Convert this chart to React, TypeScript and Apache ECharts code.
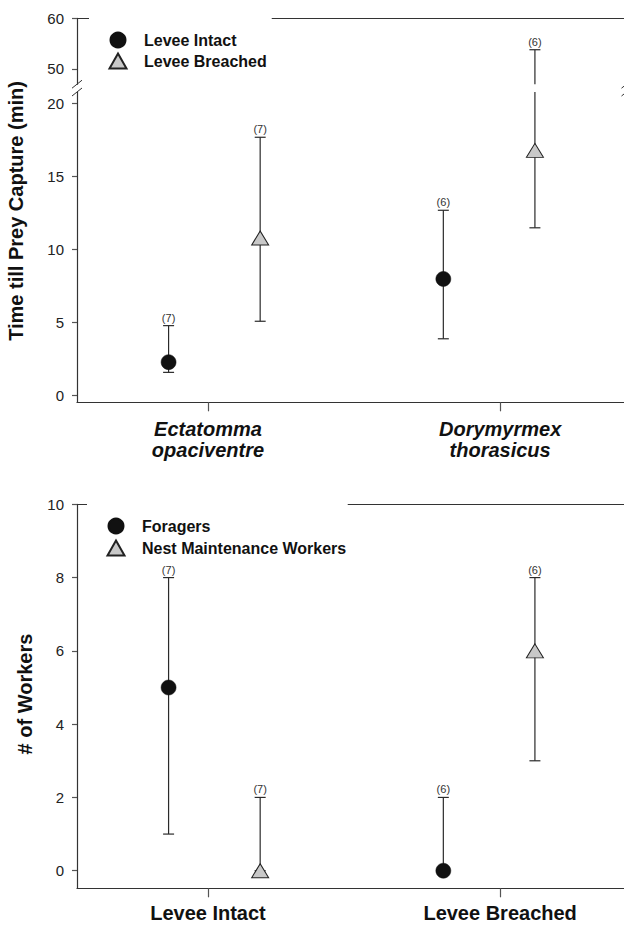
import React, { useEffect, useRef } from "react";
import * as echarts from "echarts";

// ---------- data ----------
const speciesLabels = ["Ectatomma\nopaciventre", "Dorymyrmex\nthorasicus"];
const habitatLabels = ["Levee Intact", "Levee Breached"];
// positions on the numeric x axis (0..6)
const groupTickX = [1.43, 4.62];
const circleX = [1, 4];
const triangleX = [2, 5];

// top panel: time till prey capture (min)
const intactMean = [2.3, 8.0];
const intactLow = [1.6, 3.9];
const intactHigh = [4.8, 12.7];
const intactN = [7, 6];
const breachedMean = [10.8, 16.8];
const breachedLow = [5.1, 11.5];
const breachedHigh = [17.7, 53.8];
const breachedN = [7, 6];

// bottom panel: # of workers
const foragersMean = [5, 0];
const foragersLow = [1, 0];
const foragersHigh = [8, 2];
const foragersN = [7, 6];
const nestMean = [0, 6];
const nestLow = [0, 3];
const nestHigh = [2, 8];
const nestN = [7, 6];

const upperTicks = [50, 60];
const lowerTicks = [0, 5, 10, 15, 20];
const workerTicks = [0, 2, 4, 6, 8, 10];

// ---------- layout / style ----------
const FONT = "'Liberation Sans', Arial, sans-serif";
const AXIS_X = 77;
const GRID_W = 549.5;
const UPPER_TOP = 18.3;
const UPPER_BOTTOM = 84.2;
const LOWER_TOP = 92;
const LOWER_BOTTOM = 402.3;
const WORK_TOP = 504.3;
const WORK_BOTTOM = 888.3;
const UPPER_RANGE: [number, number] = [47, 60];
const LOWER_RANGE: [number, number] = [-0.45, 20.8];
const WORK_RANGE: [number, number] = [-0.48, 10];
const LINE = "#333";
const BAR = "#2a2a2a";
const CIRCLE_FILL = "#111";
const TRI_FILL = "#c8c8c8";

function errorBarRenderer(range: [number, number]) {
  return (_params: any, api: any) => {
    const x = api.value(0);
    const lo = api.value(1);
    const hi = api.value(2);
    const n = api.value(3);
    const a = Math.max(lo, range[0]);
    const b = Math.min(hi, range[1]);
    if (b < a) return null;
    const p1 = api.coord([x, a]);
    const p2 = api.coord([x, b]);
    const children: any[] = [
      {
        type: "line",
        shape: { x1: p1[0], y1: p1[1], x2: p2[0], y2: p2[1] },
        style: { stroke: BAR, lineWidth: 1.2 },
      },
    ];
    const half = 5.5;
    if (lo >= range[0]) {
      children.push({
        type: "line",
        shape: { x1: p1[0] - half, y1: p1[1], x2: p1[0] + half, y2: p1[1] },
        style: { stroke: BAR, lineWidth: 1.2 },
      });
    }
    if (hi <= range[1]) {
      children.push({
        type: "line",
        shape: { x1: p2[0] - half, y1: p2[1], x2: p2[0] + half, y2: p2[1] },
        style: { stroke: BAR, lineWidth: 1.2 },
      });
      children.push({
        type: "text",
        x: p2[0],
        y: p2[1] - 8,
        style: {
          text: "(" + n + ")",
          align: "center",
          verticalAlign: "middle",
          fontSize: 11,
          fontFamily: FONT,
          fill: "#333",
        },
      });
    }
    return { type: "group", children };
  };
}

function barData(xs: number[], lows: number[], highs: number[], ns: number[]) {
  return xs.map((x, i) => [x, lows[i], highs[i], ns[i]]);
}
function pointData(xs: number[], ys: number[]) {
  return xs.map((x, i) => [x, ys[i]]);
}

function customSeries(name: string, xi: number, yi: number, data: any[], range: [number, number]) {
  return {
    type: "custom",
    name,
    xAxisIndex: xi,
    yAxisIndex: yi,
    data,
    encode: { x: 0, y: 1 },
    renderItem: errorBarRenderer(range),
    z: 2,
    silent: true,
  };
}

function scatterSeries(name: string, xi: number, yi: number, data: any[], circle: boolean) {
  return {
    type: "scatter",
    name,
    xAxisIndex: xi,
    yAxisIndex: yi,
    data,
    symbol: circle ? "circle" : "triangle",
    symbolSize: circle ? 15 : [17, 14],
    itemStyle: circle
      ? { color: CIRCLE_FILL, borderColor: CIRCLE_FILL, borderWidth: 0.5, opacity: 1 }
      : { color: TRI_FILL, borderColor: "#222", borderWidth: 1, opacity: 1 },
    z: 3,
    silent: true,
  };
}

function valueX(gridIndex: number, position: "top" | "bottom", labels: string[] | null, labelMargin: number, italic: boolean) {
  return {
    type: "value",
    gridIndex,
    position,
    min: 0,
    max: 6,
    axisLine: { show: true, onZero: false, lineStyle: { color: LINE, width: 1.2 } },
    axisTick: labels
      ? { show: true, customValues: groupTickX, length: 9, lineStyle: { color: "#555", width: 1.2 } }
      : { show: false },
    axisLabel: labels
      ? {
          show: true,
          customValues: groupTickX,
          margin: labelMargin,
          fontSize: 20,
          fontWeight: "bold",
          fontStyle: italic ? "italic" : "normal",
          fontFamily: FONT,
          color: "#111",
          lineHeight: 21,
          formatter: (v: number) => {
            const idx = groupTickX.findIndex((t) => Math.abs(t - v) < 1e-6);
            return idx >= 0 ? labels[idx] : "";
          },
        }
      : { show: false },
    splitLine: { show: false },
  };
}

function valueY(gridIndex: number, range: [number, number], ticks: number[]) {
  return {
    type: "value",
    gridIndex,
    position: "left",
    min: range[0],
    max: range[1],
    axisLine: { show: true, onZero: false, lineStyle: { color: LINE, width: 1.2 } },
    axisTick: { show: true, customValues: ticks, length: 5, lineStyle: { color: "#555", width: 1.2 } },
    axisLabel: {
      show: true,
      customValues: ticks,
      margin: 13,
      fontSize: 15,
      fontFamily: FONT,
      color: "#222",
    },
    splitLine: { show: false },
  };
}

function breakMarks(x: number) {
  return [UPPER_BOTTOM, LOWER_TOP].map((y) => ({
    type: "line",
    shape: { x1: x - 5, y1: y + 4, x2: x + 5, y2: y - 4 },
    style: { stroke: LINE, lineWidth: 1 },
    z: 10,
  }));
}

function legend(names: string[], left: number, top: number, gap: number, padRight: number) {
  return {
    data: [
      { name: names[0], icon: "circle" },
      { name: names[1], icon: "triangle" },
    ],
    orient: "vertical",
    left,
    top,
    padding: [22.5, padRight, 5, 19.5],
    itemGap: gap,
    itemWidth: 17,
    itemHeight: 15,
    backgroundColor: "#fff",
    selectedMode: false,
    textStyle: {
      fontSize: 16,
      fontWeight: "bold",
      fontFamily: FONT,
      color: "#111",
      lineHeight: 15,
      padding: [0, 0, 0, 12.5],
    },
  };
}

function buildOption() {
  const grids = [
    { left: AXIS_X, top: UPPER_TOP, width: GRID_W, height: UPPER_BOTTOM - UPPER_TOP },
    { left: AXIS_X, top: LOWER_TOP, width: GRID_W, height: LOWER_BOTTOM - LOWER_TOP },
    { left: AXIS_X, top: WORK_TOP, width: GRID_W, height: WORK_BOTTOM - WORK_TOP },
  ].map((g) => ({ ...g, containLabel: false, outerBoundsMode: "none", show: false }));

  return {
    animation: false,
    backgroundColor: "#fff",
    textStyle: { fontFamily: FONT },
    grid: grids,
    xAxis: [
      valueX(0, "top", null, 0, false),
      valueX(1, "bottom", speciesLabels, 16, true),
      valueX(2, "top", null, 0, false),
      valueX(2, "bottom", habitatLabels, 14, false),
    ],
    yAxis: [
      valueY(0, UPPER_RANGE, upperTicks),
      valueY(1, LOWER_RANGE, lowerTicks),
      valueY(2, WORK_RANGE, workerTicks),
    ],
    legend: [
      legend(["Levee Intact", "Levee Breached"], 89, 9, 4, 5),
      legend(["Foragers", "Nest Maintenance Workers"], 87, 495, 5, 1.5),
    ],
    graphic: [
      {
        type: "text",
        x: 16,
        y: 211,
        rotation: Math.PI / 2,
        style: {
          text: "Time till Prey Capture (min)",
          align: "center",
          verticalAlign: "middle",
          fontSize: 20,
          fontWeight: "bold",
          fontFamily: FONT,
          fill: "#111",
        },
      },
      {
        type: "text",
        x: 24.5,
        y: 694,
        rotation: Math.PI / 2,
        style: {
          text: "# of Workers",
          align: "center",
          verticalAlign: "middle",
          fontSize: 20,
          fontWeight: "bold",
          fontFamily: FONT,
          fill: "#111",
        },
      },
      ...breakMarks(AXIS_X),
      ...breakMarks(AXIS_X + GRID_W),
    ],
    series: [
      customSeries("Levee Intact range (upper)", 0, 0, barData(circleX, intactLow, intactHigh, intactN), UPPER_RANGE),
      customSeries("Levee Breached range (upper)", 0, 0, barData(triangleX, breachedLow, breachedHigh, breachedN), UPPER_RANGE),
      customSeries("Levee Intact range", 1, 1, barData(circleX, intactLow, intactHigh, intactN), LOWER_RANGE),
      customSeries("Levee Breached range", 1, 1, barData(triangleX, breachedLow, breachedHigh, breachedN), LOWER_RANGE),
      scatterSeries("Levee Intact", 1, 1, pointData(circleX, intactMean), true),
      scatterSeries("Levee Breached", 1, 1, pointData(triangleX, breachedMean), false),
      customSeries("Foragers range", 3, 2, barData(circleX, foragersLow, foragersHigh, foragersN), WORK_RANGE),
      customSeries("Nest Maintenance Workers range", 3, 2, barData(triangleX, nestLow, nestHigh, nestN), WORK_RANGE),
      scatterSeries("Foragers", 3, 2, pointData(circleX, foragersMean), true),
      scatterSeries("Nest Maintenance Workers", 3, 2, pointData(triangleX, nestMean), false),
    ],
  };
}

export default function App() {
  const ref = useRef<HTMLDivElement>(null);
  useEffect(() => {
    if (!ref.current) return;
    const chart = echarts.init(ref.current, null, { renderer: "svg" });
    chart.setOption(buildOption() as any);
    return () => chart.dispose();
  }, []);
  return (
    <div
      ref={ref}
      style={{ position: "absolute", left: 0, top: 0, width: 624, height: 931, background: "#fff" }}
    />
  );
}
